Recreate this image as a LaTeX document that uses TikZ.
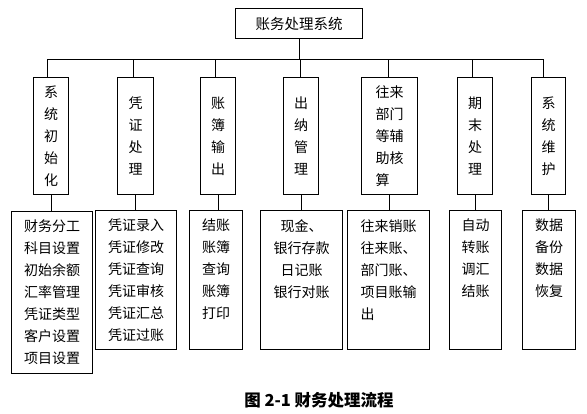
\documentclass[tikz,border=0pt]{standalone}
\usepackage{fontspec}
\setmainfont{Noto Sans CJK SC}
\begin{document}
\begin{tikzpicture}[x=1pt,y=-1pt,
  box/.style={draw,line width=1pt,inner sep=0pt,anchor=north west},
  vbox/.style={box,minimum height=117pt,align=center,font=\fontsize{14}{22}\selectfont},
  txt/.style={inner sep=0pt,anchor=north,font=\fontsize{14}{22}\selectfont},
  ln/.style={line width=1pt}]
\useasboundingbox (0,0) rectangle (587,413);
\node[box,minimum width=127pt,minimum height=30pt,font=\fontsize{14.5}{17}\selectfont] (top) at (235,8) {账务处理系统};
\coordinate (b1) at (47,59);
\coordinate (b2) at (133,59);
\coordinate (b3) at (215,59);
\coordinate (b4) at (300,59);
\coordinate (b5) at (388,59);
\coordinate (b6) at (472,59);
\coordinate (b7) at (543,59);
\draw[ln] (b1) -- (b7);
\draw[ln] (top.south) -- (top.south |- b1);
% level 2
\node[vbox,minimum width=35pt] (s1) at (33,77) {系\\统\\初\\始\\化};
\node[vbox,minimum width=36pt] (s2) at (117,77) {凭\\证\\处\\理};
\node[vbox,minimum width=35pt] (s3) at (200,77) {账\\簿\\输\\出};
\node[vbox,minimum width=35pt] (s4) at (283,77) {出\\纳\\管\\理};
\node[vbox,minimum width=56pt,align=left] (s5) at (361,77) {往来\\部门\\等辅\\助核\\算};
\node[vbox,minimum width=35pt] (s6) at (457,77) {期\\末\\处\\理};
\node[vbox,minimum width=34pt] (s7) at (531,77) {系\\统\\维\\护};
\foreach \i in {1,...,7}{\draw[ln] (b\i) -- (b\i |- s\i.north);}
% level 3
\node[box,minimum width=81pt,minimum height=162pt] (t1) at (11,211) {};
\node[box,minimum width=81pt,minimum height=139pt] (t2) at (95,210) {};
\node[box,minimum width=53pt,minimum height=139pt] (t3) at (189,210) {};
\node[box,minimum width=82pt,minimum height=139pt] (t4) at (260,210) {};
\node[box,minimum width=82pt,minimum height=139pt] (t5) at (347,210) {};
\node[box,minimum width=52pt,minimum height=139pt] (t6) at (449,210) {};
\node[box,minimum width=53pt,minimum height=139pt] (t7) at (522,210) {};
\foreach \i in {1,...,7}{\draw[ln] (s\i.south) -- (s\i.south |- t\i.north);}
\node[txt,align=center] (x1) at ([yshift=-9pt]t1.north) {财务分工\\科目设置\\初始余额\\汇率管理\\凭证类型\\客户设置\\项目设置};
\node[txt,align=center] (x2) at ([yshift=-9pt]t2.north) {凭证录入\\凭证修改\\凭证查询\\凭证审核\\凭证汇总\\凭证过账};
\node[txt,align=center] (x3) at ([yshift=-9pt]t3.north) {结账\\账簿\\查询\\账簿\\打印};
\node[txt,align=center] (x4) at ([yshift=-9pt]t4.north) {现金、\\银行存款\\日记账\\银行对账};
\node[txt,align=left] (x5) at ([yshift=-9pt]t5.north) {往来销账\\往来账、\\部门账、\\项目账输\\出};
\node[txt,align=center] (x6) at ([yshift=-9pt]t6.north) {自动\\转账\\调汇\\结账};
\node[txt,align=center] (x7) at ([yshift=-9pt]t7.north) {数据\\备份\\数据\\恢复};
\node[font=\bfseries\fontsize{16.5}{20}\selectfont] (cap) at (319,400) {图 2-1 财务处理流程};
\end{tikzpicture}
\end{document}
